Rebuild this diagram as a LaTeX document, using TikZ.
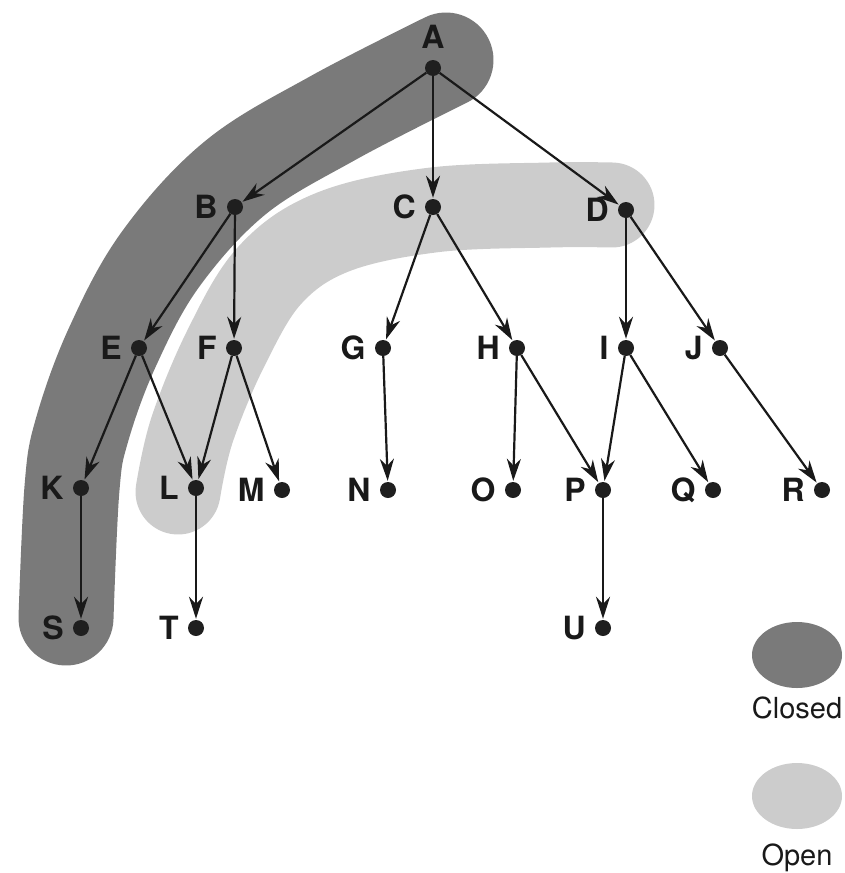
\documentclass[tikz,border=0pt]{standalone}
\usepackage{fontspec}
\setsansfont{TeX Gyre Heros}
\usetikzlibrary{arrows.meta,positioning,shapes.geometric}

\begin{document}
\begin{tikzpicture}[
    x=1pt, y=-1pt,
    font=\sffamily,
    vertex/.style={circle, fill=black!88, inner sep=0pt, minimum size=16pt},
    letter/.style={font=\sffamily\bfseries\fontsize{32}{38}\selectfont, text=black!90, inner sep=0pt, label distance=9pt},
    edge/.style={-{Stealth[length=22pt,width=14pt,inset=7pt]}, line width=2.2pt, draw=black!90, shorten >=1pt},
    closedset/.style={draw=black!52, line width=95pt, line cap=round},
    openset/.style={draw=black!20, line width=85pt, line cap=round},
    swatch/.style={ellipse, minimum width=90pt, minimum height=66pt, inner sep=0pt},
    keytext/.style={font=\sffamily\fontsize{29}{34}\selectfont, text=black!90, inner sep=0pt}
]
    \useasboundingbox (0,0) rectangle (845,873);

    % the two sets behind the tree
    \draw[openset] plot[smooth, tension=0.6] coordinates {(612,205) (550,205) (433,210) (333,232) (270,275) (226,348) (192,430) (178,492)};
    \draw[closedset] plot[smooth, tension=0.6] coordinates {(446,60) (333,118) (235,178) (160,260) (112,348) (82,430) (72,488) (66,618)};

    % tree
    \node[vertex, label={[letter, label distance=11pt]above:A}] (A) at (433,68) {};
    \node[vertex, label={[letter]left:B}] (B) at (235,207) {};
    \node[vertex, label={[letter]left:C}] (C) at (433,207) {};
    \node[vertex, label={[letter]left:D}] (D) at (626,210) {};
    \node[vertex, label={[letter]left:E}] (E) at (139,348) {};
    \node[vertex, label={[letter]left:F}] (F) at (234,348) {};
    \node[vertex, label={[letter]left:G}] (G) at (383,348) {};
    \node[vertex, label={[letter]left:H}] (H) at (517,348) {};
    \node[vertex, label={[letter]left:I}] (I) at (626,348) {};
    \node[vertex, label={[letter]left:J}] (J) at (720,348) {};
    \node[vertex, label={[letter]left:K}] (K) at (81,488) {};
    \node[vertex, label={[letter]left:L}] (L) at (196,488) {};
    \node[vertex, label={[letter]left:M}] (M) at (282,490) {};
    \node[vertex, label={[letter]left:N}] (N) at (388,490) {};
    \node[vertex, label={[letter]left:O}] (O) at (513,490) {};
    \node[vertex, label={[letter]left:P}] (P) at (603,490) {};
    \node[vertex, label={[letter]left:Q}] (Q) at (713,490) {};
    \node[vertex, label={[letter]left:R}] (R) at (822,490) {};
    \node[vertex, label={[letter]left:S}] (S) at (81,628) {};
    \node[vertex, label={[letter]left:T}] (T) at (196,628) {};
    \node[vertex, label={[letter]left:U}] (U) at (603,628) {};

    \draw[edge] (A) -- (B);
    \draw[edge] (A) -- (C);
    \draw[edge] (A) -- (D);
    \draw[edge] (B) -- (E);
    \draw[edge] (B) -- (F);
    \draw[edge] (C) -- (G);
    \draw[edge] (C) -- (H);
    \draw[edge] (D) -- (I);
    \draw[edge] (D) -- (J);
    \draw[edge] (E) -- (K);
    \draw[edge] (E) -- (L);
    \draw[edge] (F) -- (L);
    \draw[edge] (F) -- (M);
    \draw[edge] (G) -- (N);
    \draw[edge] (H) -- (O);
    \draw[edge] (H) -- (P);
    \draw[edge] (I) -- (P);
    \draw[edge] (I) -- (Q);
    \draw[edge] (J) -- (R);
    \draw[edge] (K) -- (S);
    \draw[edge] (L) -- (T);
    \draw[edge] (P) -- (U);

    % legend
    \node[swatch, fill=black!52] (closedkey) at (797,655) {};
    \node[keytext, below=8pt of closedkey] (closedname) {Closed};
    \node[swatch, fill=black!20] (openkey) at (797,796) {};
    \node[keytext, below=14pt of openkey] (openname) {Open};
\end{tikzpicture}
\end{document}
